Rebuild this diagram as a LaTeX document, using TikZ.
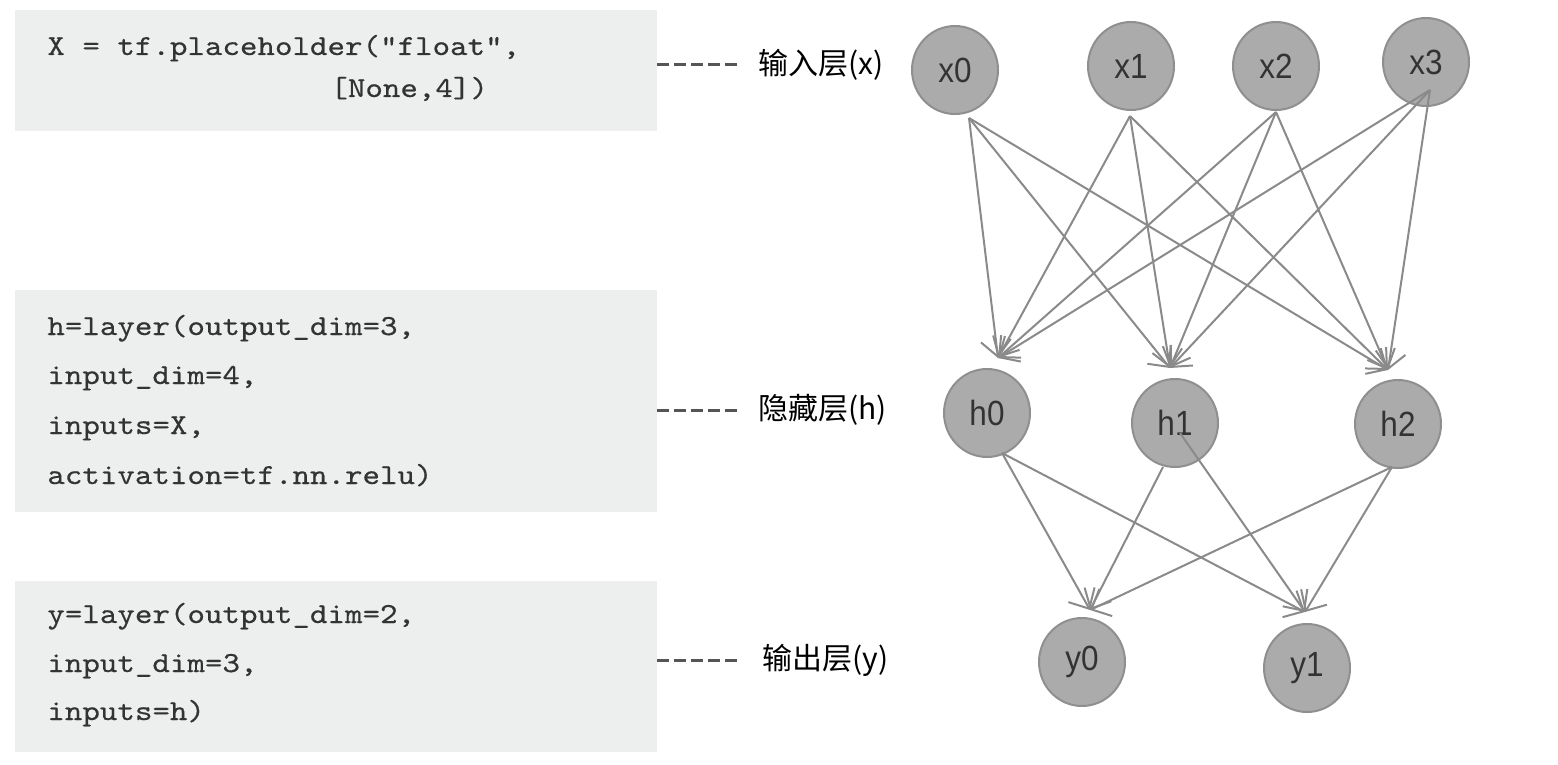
\documentclass[tikz,border=0pt]{standalone}
\usepackage{fontspec}
\newfontfamily\codefont{lmmono10-regular.otf}[FakeStretch=1.15,FakeBold=0.4]
\newfontfamily\cjk{Noto Sans CJK SC}
\newfontfamily\nodefont{Liberation Sans}[FakeStretch=0.9]
\usetikzlibrary{arrows.meta,shapes.geometric}
\definecolor{boxgray}{HTML}{EDEEEE}
\definecolor{codegray}{HTML}{333333}
\definecolor{nodefill}{HTML}{ABABAB}
\definecolor{nodeline}{HTML}{8F8F8F}
\definecolor{edgegray}{HTML}{8A8A8A}
\definecolor{dashgray}{HTML}{555555}
\tikzset{
  codebox/.style={draw=none, fill=boxgray, inner sep=0pt},
  codeline/.style={anchor=base west, inner sep=0pt, text=codegray, font=\codefont\fontsize{14.5}{17}\selectfont},
  layerlabel/.style={anchor=west, inner sep=0pt, text=black, font=\cjk\fontsize{15}{18}\selectfont},
  dashline/.style={draw=dashgray, line width=1.5pt, dash pattern=on 6pt off 2.5pt},
  neuron/.style={ellipse, fill=nodefill, draw=nodeline, line width=1pt, minimum width=43pt, minimum height=44pt, inner sep=0pt, text=codegray, font=\nodefont\fontsize{17.5}{19}\selectfont},
  edge/.style={draw=edgegray, line width=1pt, -{Straight Barb[length=8pt,width=15pt,line width=1pt]}}
}
\begin{document}
\begin{tikzpicture}[x=0.5pt,y=-0.5pt]
\useasboundingbox (0,0) rectangle (1558,765);
% code boxes
\node[codebox, minimum width=321pt, minimum height=60.5pt] (box1) at (336,70.5) {};
\node[codebox, minimum width=321pt, minimum height=111pt] (box2) at (336,401) {};
\node[codebox, minimum width=321pt, minimum height=85.5pt] (box3) at (336,666.5) {};
% code lines
\node[codeline] (c11) at (47,55) {X = tf.placeholder("float",};
\node[codeline] (c12) at (330,97) {[None,4])};
\node[codeline] (c21) at (47,335) {h=layer(output\_dim=3,};
\node[codeline] (c22) at (47,384) {input\_dim=4,};
\node[codeline] (c23) at (47,434) {inputs=X,};
\node[codeline] (c24) at (47,484) {activation=tf.nn.relu)};
\node[codeline] (c31) at (47,623) {y=layer(output\_dim=2,};
\node[codeline] (c32) at (47,672) {input\_dim=3,};
\node[codeline] (c33) at (47,720) {inputs=h)};
% layer labels
\node[layerlabel] (lab1) at (758,65) {输入层(x)};
\node[layerlabel] (lab2) at (758,410) {隐藏层(h)};
\node[layerlabel] (lab3) at (762,660) {输出层(y)};
\draw[dashline, shorten >=10.5pt] (box1.east |- lab1.west) -- (lab1.west);
\draw[dashline, shorten >=10.5pt] (box2.east |- lab2.west) -- (lab2.west);
\draw[dashline, shorten >=12.5pt] (box3.east |- lab3.west) -- (lab3.west);
% neurons
\node[neuron] (x0) at (955,70) {x0};
\node[neuron] (x1) at (1131,66) {x1};
\node[neuron] (x2) at (1276,66) {x2};
\node[neuron] (x3) at (1426,62) {x3};
\node[neuron] (h0) at (987,413) {h0};
\node[neuron] (h1) at (1175,423) {h1};
\node[neuron] (h2) at (1398,424) {h2};
\node[neuron] (y0) at (1082,662) {y0};
\node[neuron] (y1) at (1307,668) {y1};
% connector end points
\coordinate (x0o) at (969,118);
\coordinate (x1o) at (1130,116);
\coordinate (x2o) at (1276,112);
\coordinate (x3o) at (1430,90);
\coordinate (h0i) at (998,358);
\coordinate (h1i) at (1170,368);
\coordinate (h2i) at (1388,370);
\coordinate (h0o) at (1002,453);
\coordinate (h1o) at (1163,467);
\coordinate (h1c) at (1180,433);
\coordinate (h2o) at (1392,467);
\coordinate (y0i) at (1090,610);
\coordinate (y1i) at (1305,612);
% edges input -> hidden
\foreach \s in {x0o,x1o,x2o,x3o}{
  \foreach \t in {h0i,h1i,h2i}{
    \draw[edge] (\s) -- (\t);
  }
}
% edges hidden -> output
\draw[edge] (h0o) -- (y0i);
\draw[edge] (h0o) -- (y1i);
\draw[edge] (h1o) -- (y0i);
\draw[edge] (h1c) -- (y1i);
\draw[edge] (h2o) -- (y0i);
\draw[edge] (h2o) -- (y1i);
\end{tikzpicture}
\end{document}
